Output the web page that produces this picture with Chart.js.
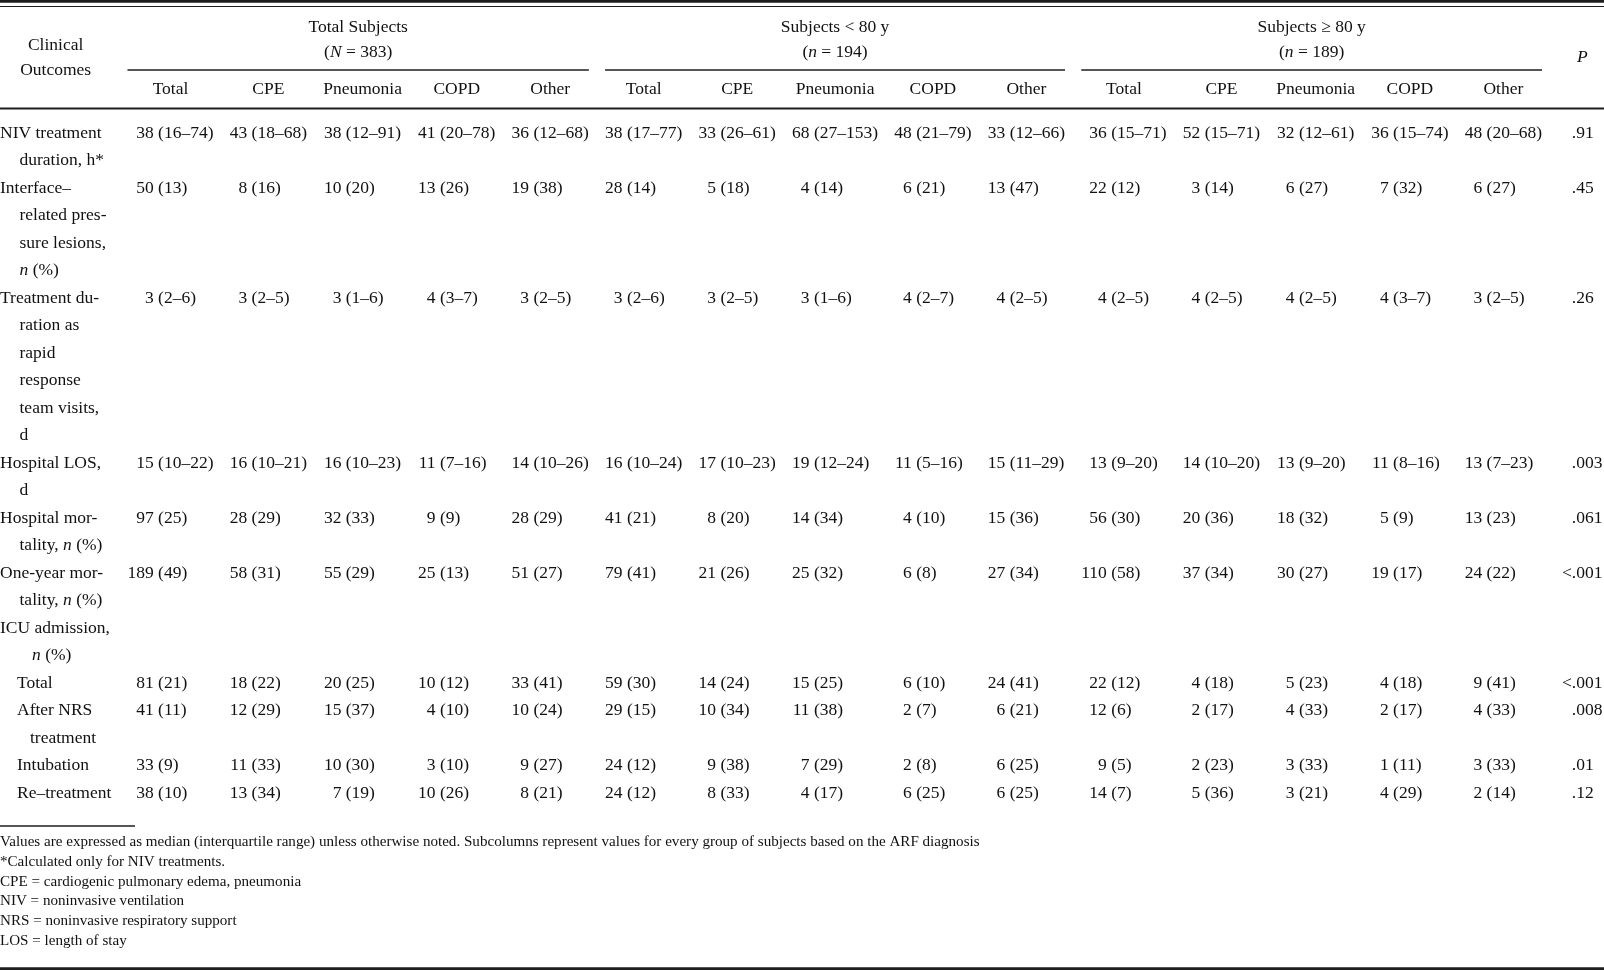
<!DOCTYPE html>
<html>
<head>
<meta charset="utf-8">
<title>Clinical outcomes by age group and ARF diagnosis</title>
<script src="https://cdn.jsdelivr.net/npm/chart.js@4.4.1/dist/chart.umd.min.js"></script>
<style>
  html, body { margin: 0; padding: 0; background: #fff; }
  canvas { display: block; }
</style>
</head>
<body>
<canvas id="outcomesTable" width="1604" height="970"></canvas>
<script>
// ---- table content ----
const groupTitles = ['Total Subjects', 'Subjects < 80 y', 'Subjects ≥ 80 y'];
const groupSizes = ['(_N_ = 383)', '(_n_ = 194)', '(_n_ = 189)'];
const subgroups = ['Total', 'CPE', 'Pneumonia', 'COPD', 'Other'];

// row labels, broken into lines the way the printed table does it (_x_ = italic)
const rowLabels = [
  ['NIV treatment', 'duration, h*'],
  ['Interface–', 'related pres-', 'sure lesions,', '_n_ (%)'],
  ['Treatment du-', 'ration as', 'rapid', 'response', 'team visits,', 'd'],
  ['Hospital LOS,', 'd'],
  ['Hospital mor-', 'tality, _n_ (%)'],
  ['One-year mor-', 'tality, _n_ (%)'],
  ['ICU admission,', '_n_ (%)'],
  ['Total'],
  ['After NRS', 'treatment'],
  ['Intubation'],
  ['Re–treatment']
];
const rowLevel = [0, 0, 0, 0, 0, 0, 0, 1, 1, 1, 1];

// 15 cells per row: Total/CPE/Pneumonia/COPD/Other for all, <80 y, >=80 y
const nivDuration = ['38 (16–74)', '43 (18–68)', '38 (12–91)', '41 (20–78)', '36 (12–68)',
  '38 (17–77)', '33 (26–61)', '68 (27–153)', '48 (21–79)', '33 (12–66)',
  '36 (15–71)', '52 (15–71)', '32 (12–61)', '36 (15–74)', '48 (20–68)'];
const pressureLesions = ['50 (13)', '8 (16)', '10 (20)', '13 (26)', '19 (38)',
  '28 (14)', '5 (18)', '4 (14)', '6 (21)', '13 (47)',
  '22 (12)', '3 (14)', '6 (27)', '7 (32)', '6 (27)'];
const rrtDuration = ['3 (2–6)', '3 (2–5)', '3 (1–6)', '4 (3–7)', '3 (2–5)',
  '3 (2–6)', '3 (2–5)', '3 (1–6)', '4 (2–7)', '4 (2–5)',
  '4 (2–5)', '4 (2–5)', '4 (2–5)', '4 (3–7)', '3 (2–5)'];
const hospitalLOS = ['15 (10–22)', '16 (10–21)', '16 (10–23)', '11 (7–16)', '14 (10–26)',
  '16 (10–24)', '17 (10–23)', '19 (12–24)', '11 (5–16)', '15 (11–29)',
  '13 (9–20)', '14 (10–20)', '13 (9–20)', '11 (8–16)', '13 (7–23)'];
const hospitalMortality = ['97 (25)', '28 (29)', '32 (33)', '9 (9)', '28 (29)',
  '41 (21)', '8 (20)', '14 (34)', '4 (10)', '15 (36)',
  '56 (30)', '20 (36)', '18 (32)', '5 (9)', '13 (23)'];
const oneYearMortality = ['189 (49)', '58 (31)', '55 (29)', '25 (13)', '51 (27)',
  '79 (41)', '21 (26)', '25 (32)', '6 (8)', '27 (34)',
  '110 (58)', '37 (34)', '30 (27)', '19 (17)', '24 (22)'];
const icuTotal = ['81 (21)', '18 (22)', '20 (25)', '10 (12)', '33 (41)',
  '59 (30)', '14 (24)', '15 (25)', '6 (10)', '24 (41)',
  '22 (12)', '4 (18)', '5 (23)', '4 (18)', '9 (41)'];
const icuAfterNRS = ['41 (11)', '12 (29)', '15 (37)', '4 (10)', '10 (24)',
  '29 (15)', '10 (34)', '11 (38)', '2 (7)', '6 (21)',
  '12 (6)', '2 (17)', '4 (33)', '2 (17)', '4 (33)'];
const icuIntubation = ['33 (9)', '11 (33)', '10 (30)', '3 (10)', '9 (27)',
  '24 (12)', '9 (38)', '7 (29)', '2 (8)', '6 (25)',
  '9 (5)', '2 (23)', '3 (33)', '1 (11)', '3 (33)'];
const icuRetreatment = ['38 (10)', '13 (34)', '7 (19)', '10 (26)', '8 (21)',
  '24 (12)', '8 (33)', '4 (17)', '6 (25)', '6 (25)',
  '14 (7)', '5 (36)', '3 (21)', '4 (29)', '2 (14)'];
const pValues = ['.91', '.45', '.26', '.003', '.061', '<.001', '', '<.001', '.008', '.01', '.12'];

// the ICU header row has no values
const cellRows = [nivDuration, pressureLesions, rrtDuration, hospitalLOS, hospitalMortality,
  oneYearMortality, null, icuTotal, icuAfterNRS, icuIntubation, icuRetreatment];

const footnotes = [
  'Values are expressed as median (interquartile range) unless otherwise noted. Subcolumns represent values for every group of subjects based on the ARF diagnosis',
  '*Calculated only for NIV treatments.',
  'CPE = cardiogenic pulmonary edema, pneumonia',
  'NIV = noninvasive ventilation',
  'NRS = noninvasive respiratory support',
  'LOS = length of stay'
];

// ---- look ----
const W = 1604, H = 970;
const SERIF = '"Liberation Serif", "Times New Roman", Times, serif';
const CELL_PX = 17.5;
const NOTE_PX = 15.1;
const LINE_H = 27.5;       // one text line in the body
const BODY_Y0 = 133;       // centre of first body line
const GAP = 16.2;          // space between columns
const P_GAP = 20;
const INDENT_CONT = 19.5, INDENT_SUB = 17, INDENT_SUB_CONT = 30, INDENT_HEAD_CONT = 32;
const INK = '#111', RULE = '#1e1e1e';
const HEAD = { title: 27, size: 52, underline: 70, sub: 89, rule: 108.5, stub1: 45, stub2: 70, p: 57 };
const NOTE = { rule: 826, first: 842, step: 19.8, ruleLen: 135 };

function fontOf(px, italic) {
  return (italic ? 'italic ' : '') + px + 'px ' + SERIF;
}

// "_n_ (%)" -> [{t:'n', it:true}, {t:' (%)', it:false}]
function segs(str) {
  return str.split('_').map((t, i) => ({ t: t, it: i % 2 === 1 })).filter(s => s.t.length);
}

const measureCtx = document.createElement('canvas').getContext('2d');
function textWidth(str, px) {
  let w = 0;
  segs(str).forEach(s => {
    measureCtx.font = fontOf(px, s.it);
    w += measureCtx.measureText(s.t).width;
  });
  return w;
}

function drawRich(ctx, str, x, y, px, align) {
  const w = textWidth(str, px);
  let cx = align === 'center' ? x - w / 2 : (align === 'right' ? x - w : x);
  ctx.textAlign = 'left';
  segs(str).forEach(s => {
    ctx.font = fontOf(px, s.it);
    ctx.fillText(s.t, cx, y);
    cx += ctx.measureText(s.t).width;
  });
}

// ---- layout worked out from the text itself ----
function lineIndent(r, k) {
  if (rowLevel[r] === 0) {
    if (k === 0) return 0;
    return cellRows[r] ? INDENT_CONT : INDENT_HEAD_CONT;  // section head wraps deeper
  }
  return k === 0 ? INDENT_SUB : INDENT_SUB_CONT;
}

let stubWidth = 0;
rowLabels.forEach((lines, r) => {
  lines.forEach((ln, k) => {
    stubWidth = Math.max(stubWidth, lineIndent(r, k) + textWidth(ln, CELL_PX));
  });
});

const rowY = [];
let lineCount = 0;
rowLabels.forEach(lines => {
  rowY.push(BODY_Y0 + lineCount * LINE_H);
  lineCount += lines.length;
});

// every cell is lined up on its opening parenthesis (P values on the decimal point)
function splitCell(text, mark) {
  const i = text.indexOf(mark);
  return i < 0 ? [text, ''] : [text.slice(0, i), text.slice(i)];
}

function fitColumn(texts, mark, headW, start) {
  let L = 0, R = 0;
  texts.forEach(t => {
    const [a, b] = splitCell(t, mark);
    L = Math.max(L, textWidth(a, CELL_PX));
    R = Math.max(R, textWidth(b, CELL_PX));
  });
  const colW = Math.max(L + R, headW);
  return { s: start, e: start + colW, anchor: start + (colW - L - R) / 2 + L };
}

const columns = [];
let cursor = stubWidth + GAP;
for (let g = 0; g < groupTitles.length; g++) {
  for (let j = 0; j < subgroups.length; j++) {
    const c = g * subgroups.length + j;
    const texts = cellRows.filter(Boolean).map(r => r[c]);
    const col = fitColumn(texts, ' (', textWidth(subgroups[j], CELL_PX), cursor);
    col.group = g; col.label = subgroups[j]; col.mark = ' ('; col.idx = c;
    columns.push(col);
    cursor = col.e + GAP;
  }
}
cursor += P_GAP - GAP;
const pCol = fitColumn(pValues.filter(Boolean), '.', textWidth('_P_', CELL_PX), cursor);
pCol.mark = '.';

// one scatter dataset per column; each point is one cell
function cellDataset(col, values) {
  const pts = [], txt = [];
  values.forEach((v, ri) => {
    if (v) { pts.push({ x: col.anchor, y: rowY[ri] }); txt.push(v); }
  });
  return { label: col.label || 'P', data: pts, cellText: txt, mark: col.mark, pointRadius: 0 };
}
const datasets = columns.map(col => cellDataset(col, cellRows.map(r => r ? r[col.idx] : '')));
datasets.push(cellDataset(pCol, pValues));

// ---- drawing ----
const tablePlugin = {
  id: 'tableText',
  afterDatasetsDraw(chart) {
    const ctx = chart.ctx;
    const xs = chart.scales.x, ys = chart.scales.y;
    const px = v => xs.getPixelForValue(v);
    const py = v => ys.getPixelForValue(v);

    function rule(x0, x1, y, lw) {
      ctx.strokeStyle = RULE;
      ctx.lineWidth = lw;
      ctx.beginPath();
      ctx.moveTo(px(x0), py(y));
      ctx.lineTo(px(x1), py(y));
      ctx.stroke();
    }

    ctx.save();
    ctx.fillStyle = INK;
    ctx.textBaseline = 'middle';

    // rules
    rule(0, W, 1.35, 2.7);
    rule(0, W, 6.5, 1.2);
    rule(0, W, HEAD.rule, 1.8);
    rule(0, NOTE.ruleLen, NOTE.rule, 1.5);
    rule(0, W, H - 1.4, 2.8);

    // stub head
    drawRich(ctx, 'Clinical', px(stubWidth / 2), py(HEAD.stub1), CELL_PX, 'center');
    drawRich(ctx, 'Outcomes', px(stubWidth / 2), py(HEAD.stub2), CELL_PX, 'center');

    // spanner heads
    groupTitles.forEach((title, g) => {
      const cols = columns.filter(c => c.group === g);
      const s = cols[0].s, e = cols[cols.length - 1].e;
      drawRich(ctx, title, px((s + e) / 2), py(HEAD.title), CELL_PX, 'center');
      drawRich(ctx, groupSizes[g], px((s + e) / 2), py(HEAD.size), CELL_PX, 'center');
      rule(s, e, HEAD.underline, 1.6);
    });
    columns.forEach(col => {
      drawRich(ctx, col.label, px((col.s + col.e) / 2), py(HEAD.sub), CELL_PX, 'center');
    });
    drawRich(ctx, '_P_', px((pCol.s + pCol.e) / 2), py(HEAD.p), CELL_PX, 'center');

    // row labels
    rowLabels.forEach((lines, r) => {
      lines.forEach((ln, k) => {
        drawRich(ctx, ln, px(lineIndent(r, k)), py(rowY[r] + k * LINE_H), CELL_PX, 'left');
      });
    });

    // cells, placed by the scatter points
    chart.data.datasets.forEach((ds, di) => {
      const meta = chart.getDatasetMeta(di);
      meta.data.forEach((pt, i) => {
        const [a, b] = splitCell(ds.cellText[i], ds.mark);
        drawRich(ctx, a, pt.x, pt.y, CELL_PX, 'right');
        drawRich(ctx, b, pt.x, pt.y, CELL_PX, 'left');
      });
    });

    // footnotes
    footnotes.forEach((t, i) => {
      drawRich(ctx, t, px(0), py(NOTE.first + i * NOTE.step), NOTE_PX, 'left');
    });

    ctx.restore();
  }
};

const tableCtx = document.getElementById('outcomesTable').getContext('2d');
new Chart(tableCtx, {
  type: 'scatter',
  data: { datasets: datasets },
  options: {
    responsive: false,
    animation: false,
    devicePixelRatio: 1,
    events: [],
    layout: { padding: 0 },
    plugins: { legend: { display: false }, tooltip: { enabled: false } },
    scales: {
      x: { type: 'linear', display: false, min: 0, max: W },
      y: { type: 'linear', display: false, reverse: true, min: 0, max: H }
    }
  },
  plugins: [tablePlugin]
});
</script>
</body>
</html>
